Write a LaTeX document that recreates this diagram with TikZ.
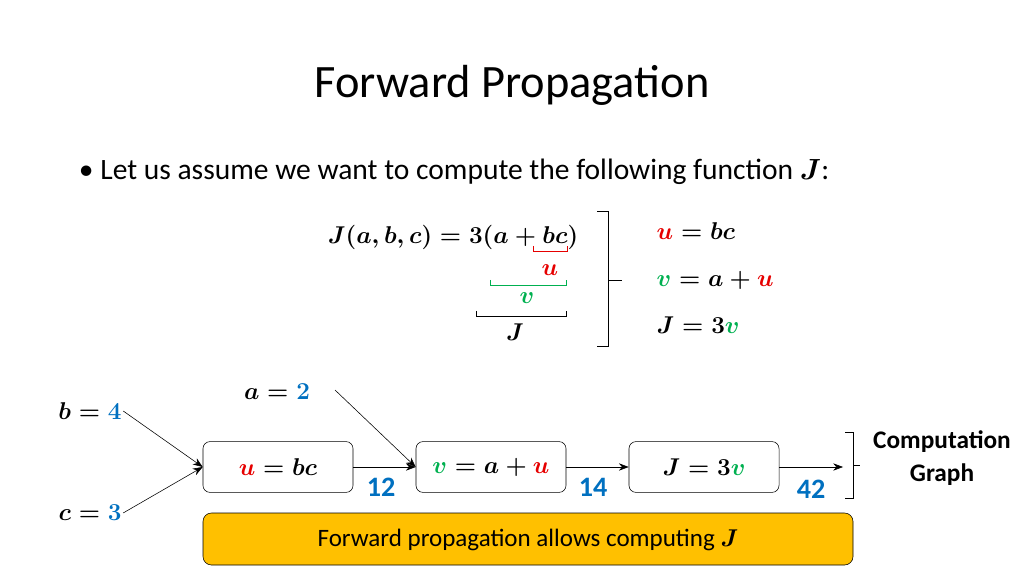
\documentclass[tikz,border=0pt]{standalone}
\usepackage{fontspec}
\setmainfont{Carlito}
\usepackage{bm}
\usepackage{amsmath}
\usepackage{xcolor}
\usetikzlibrary{arrows, arrows.meta}
\definecolor{ured}{RGB}{230,0,0}
\definecolor{vgreen}{RGB}{0,176,80}
\definecolor{nblue}{RGB}{0,112,192}
\definecolor{gold}{RGB}{255,192,0}
\newcommand{\mth}[1]{{\fontsize{17}{20}\selectfont\boldmath$#1$}}
\tikzset{
  op/.style={draw, rounded corners=5pt, minimum width=3.75cm, minimum height=1.27cm, inner sep=0pt},
  val/.style={text=nblue, font=\fontsize{20}{24}\selectfont\bfseries},
  lbl/.style={inner sep=1pt},
  flow/.style={-{Stealth[length=7pt]}, thin}
}
\begin{document}
\begin{tikzpicture}[x=0.025cm, y=-0.025cm]
\useasboundingbox (0,0) rectangle (1024,576);

\node[font=\fontsize{33}{38}\selectfont] (title) at (512,85) {Forward Propagation};
\node[anchor=west, font=\fontsize{21}{25}\selectfont] (bullet) at (74,172) {\textbullet\ Let us assume we want to compute the following function {\boldmath$J$}:};

% the function and its parts
\node[lbl] (func) at (453,237) {\mth{J(a,b,c) = 3(a + bc)}};
\draw[ured] (533,246) -- (533,251) -- (567,251) -- (567,246);
\node[lbl] (ulab) at (550,270) {\mth{\color{ured}u}};
\draw[vgreen] (490,280) -- (490,285) -- (566,285) -- (566,280);
\node[lbl] (vlab) at (527,298) {\mth{\color{vgreen}v}};
\draw[black] (476,311) -- (476,316) -- (566,316) -- (566,311);
\node[lbl] (Jlab) at (515,332) {\mth{J}};

\draw (597,211) -- (608,211) -- (608,280) -- (622,280) (608,280) -- (608,346) -- (597,346);
\node[lbl, anchor=west] (equ) at (655,231) {\mth{{\color{ured}u} = bc}};
\node[lbl, anchor=west] (eqv) at (655,280) {\mth{{\color{vgreen}v} = a + {\color{ured}u}}};
\node[lbl, anchor=west] (eqJ) at (655,325) {\mth{J = 3{\color{vgreen}v}}};

% computation graph
\node[op] (ubox) at (278,467) {\mth{{\color{ured}u} = bc}};
\node[op] (vbox) at (491,467) {\mth{{\color{vgreen}v} = a + {\color{ured}u}}};
\node[op] (Jbox) at (704,467) {\mth{J = 3{\color{vgreen}v}}};
\coordinate (out) at (843,467);

\node[lbl] (b) at (90,411) {\mth{b = {\color{nblue}4}}};
\node[lbl] (c) at (90,513) {\mth{c = {\color{nblue}3}}};
\node[lbl] (a) at (277,392) {\mth{a = {\color{nblue}2}}};
\coordinate (afrom) at (335,390);

\draw[flow] (b.east) -- (ubox.west);
\draw[flow] (c.east) -- (ubox.west);
\draw[flow] (afrom) -- (vbox.west);
\draw[flow] (ubox) -- (vbox);
\draw[flow] (vbox) -- (Jbox);
\draw[flow] (Jbox) -- (out);

\node[val] (n12) at (381,487) {12};
\node[val] (n14) at (593,487) {14};
\node[val] (n42) at (811,489) {42};

\draw (845,432) -- (853,432) -- (853,465) -- (860,465) (853,465) -- (853,498) -- (845,498);
\node[align=center, font=\fontsize{18}{23}\selectfont\bfseries] (graph) at (942,458) {Computation\\Graph};

\draw[rounded corners=6pt, fill=gold] (203,513) rectangle (853,565);
\node[font=\fontsize{17.8}{21}\selectfont] (fwd) at (528,540) {Forward propagation allows computing {\boldmath$J$}};
\end{tikzpicture}
\end{document}
